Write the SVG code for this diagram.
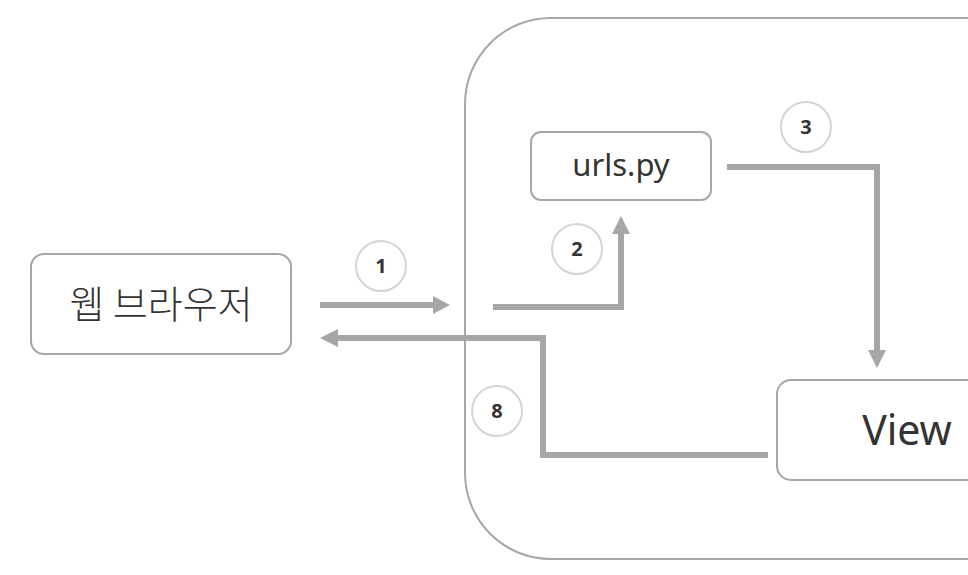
<svg xmlns="http://www.w3.org/2000/svg" width="968" height="575" viewBox="0 0 968 575">
<defs>
<style>
.box{fill:#fff;stroke:#a6a6a6;stroke-width:2}
.lbl{font-family:"Noto Sans","Noto Sans CJK KR",sans-serif;fill:#333;text-anchor:middle}
.kr{font-family:"Noto Sans CJK KR","Noto Sans",sans-serif;fill:#333;text-anchor:middle}
.num{fill:#fff;stroke:#d4d4d4;stroke-width:2}
.numt{font-family:"Noto Sans",sans-serif;font-weight:bold;font-size:20px;fill:#333;text-anchor:middle}
.con{fill:none;stroke:#a6a6a6;stroke-width:6}
.head{fill:#a6a6a6}
</style>
</defs>
<rect id="container" x="465" y="18" width="600" height="541" rx="86" ry="86" fill="#fff" stroke="#a6a6a6" stroke-width="2"/>
<g id="connectors">
<polyline class="con" points="320,305 436,305"/>
<polygon class="head" points="450,305 433,296 433,314"/>
<polyline class="con" points="768,455 543,455 543,338 336,338"/>
<polygon class="head" points="320,338 338,329 338,347"/>
<polyline class="con" points="493,307 621,307 621,232"/>
<polygon class="head" points="621,216 612,234 630,234"/>
<polyline class="con" points="727,167 877,167 877,352"/>
<polygon class="head" points="877,368 868,350 886,350"/>
</g>
<g id="browser">
<rect class="box" x="31" y="254" width="260" height="100" rx="13"/>
<text class="kr" x="161" y="318" font-size="38" font-weight="300">웹 브라우저</text>
</g>
<g id="urls">
<rect class="box" x="531" y="132" width="180" height="68" rx="10"/>
<text class="lbl" x="621" y="176" font-size="31">urls.py</text>
</g>
<g id="view">
<rect class="box" x="777" y="380" width="260" height="100" rx="14"/>
<text class="lbl" x="907" y="445" font-size="41">View</text>
</g>
<g id="n1"><circle class="num" cx="381" cy="266" r="25"/><text class="numt" x="381" y="273">1</text></g>
<g id="n2"><circle class="num" cx="577" cy="249" r="25"/><text class="numt" x="577" y="256">2</text></g>
<g id="n3"><circle class="num" cx="806" cy="127" r="25"/><text class="numt" x="806" y="134">3</text></g>
<g id="n8"><circle class="num" cx="497" cy="411" r="25"/><text class="numt" x="497" y="418">8</text></g>
</svg>
